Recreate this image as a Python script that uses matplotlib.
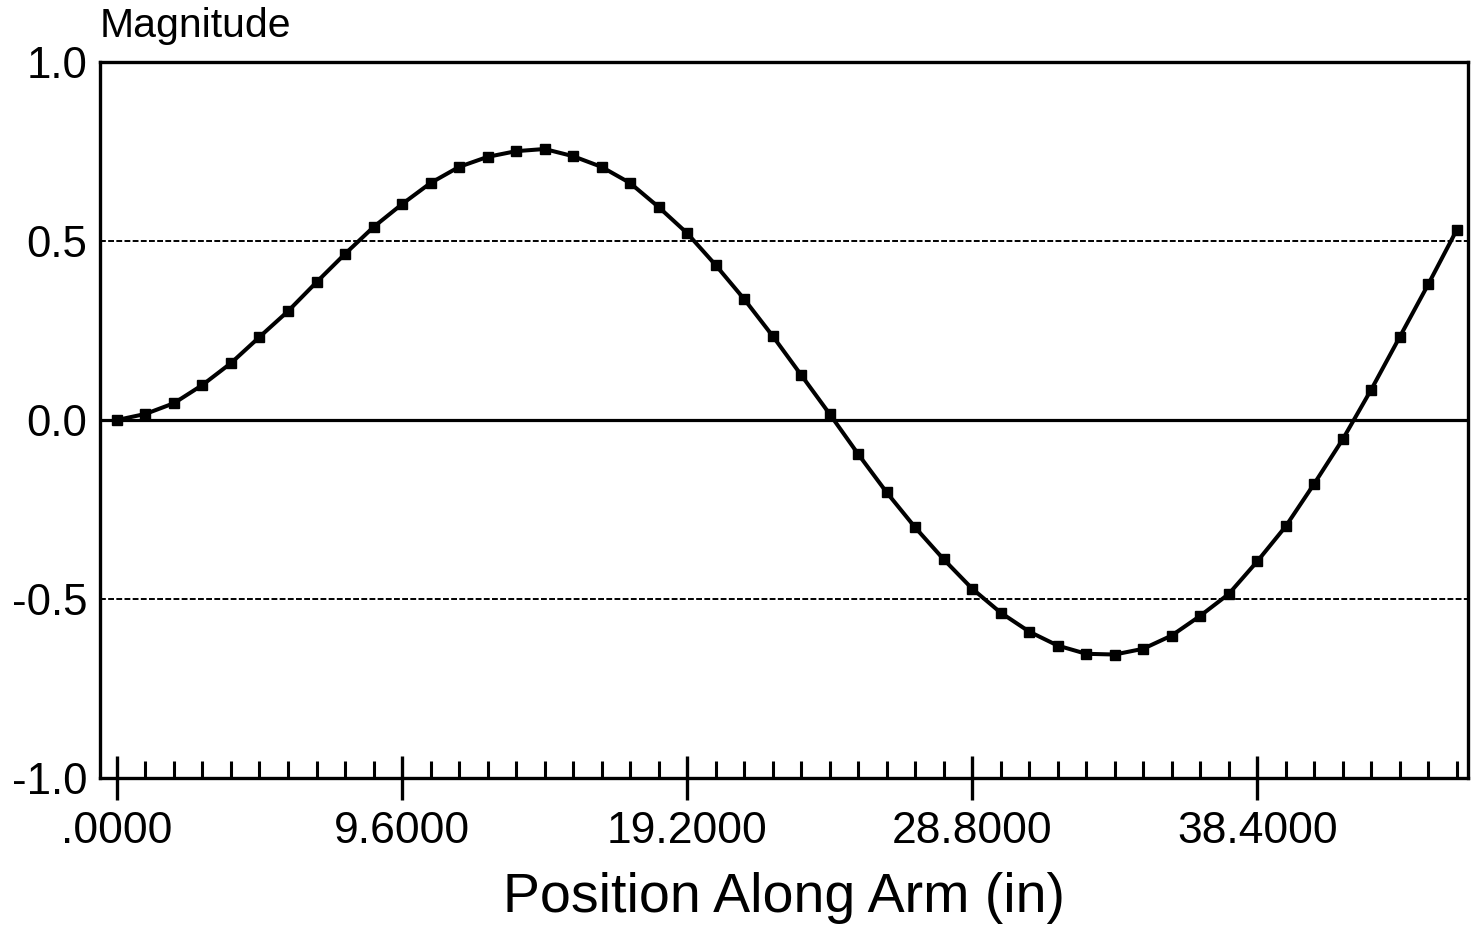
import numpy as np
import matplotlib.pyplot as plt

# sample positions along the arm, every 0.96 in
step = 0.96
position = [round(i * step, 2) for i in range(48)]
magnitude = [
    0.000, 0.017, 0.047, 0.098, 0.159, 0.232, 0.304, 0.385, 0.464, 0.539,
    0.603, 0.662, 0.707, 0.735, 0.751, 0.757, 0.737, 0.707, 0.662, 0.595,
    0.522, 0.433, 0.338, 0.235, 0.126, 0.017, -0.095, -0.202, -0.300, -0.389,
    -0.471, -0.538, -0.591, -0.630, -0.653, -0.655, -0.639, -0.602, -0.547, -0.486,
    -0.395, -0.297, -0.178, -0.054, 0.085, 0.232, 0.379, 0.531,
]
x_major = [0.0, 9.6, 19.2, 28.8, 38.4]
x_labels = ['.0000', '9.6000', '19.2000', '28.8000', '38.4000']
y_ticks = [-1.0, -0.5, 0.0, 0.5, 1.0]
y_labels = ['-1.0', '-0.5', '0.0', '0.5', '1.0']

plt.rcParams['font.family'] = ['Liberation Sans', 'DejaVu Sans']

fig = plt.figure(figsize=(14.72, 9.27), dpi=100)
ax = fig.add_axes([0.0679, 0.1607, 0.9294, 0.7724])

# reference lines
ax.axhline(0.0, color='black', lw=2.3, zorder=1)
for yy in (0.5, -0.5):
    ax.axhline(yy, color='black', lw=1.4, ls=(0, (3, 1.2)), zorder=1)

ax.plot(position, magnitude, color='black', lw=2.9, marker='s', ms=6.5,
        mfc='black', mec='black', zorder=3)

ax.set_xlim(-0.573, 45.5)
ax.set_ylim(-1.0, 1.0)

ax.set_xticks(x_major)
ax.set_xticklabels(x_labels, fontsize=32)
ax.set_xticks([p for p in position if round(p / 9.6, 3) % 1 != 0], minor=True)
ax.tick_params(axis='x', which='major', direction='inout', length=32, width=2.4, pad=8)
ax.tick_params(axis='x', which='minor', direction='in', length=12, width=2.2)

ax.set_yticks(y_ticks)
ax.set_yticklabels(y_labels, fontsize=31.5)
ax.tick_params(axis='y', which='major', length=0, pad=9)

for s in ax.spines.values():
    s.set_linewidth(2.4)

ax.set_xlabel('Position Along Arm (in)', fontsize=40, labelpad=14)
fig.text(0.068, 0.951, 'Magnitude', fontsize=29.5, ha='left', va='bottom')

fig.savefig('out.png', dpi=100)
